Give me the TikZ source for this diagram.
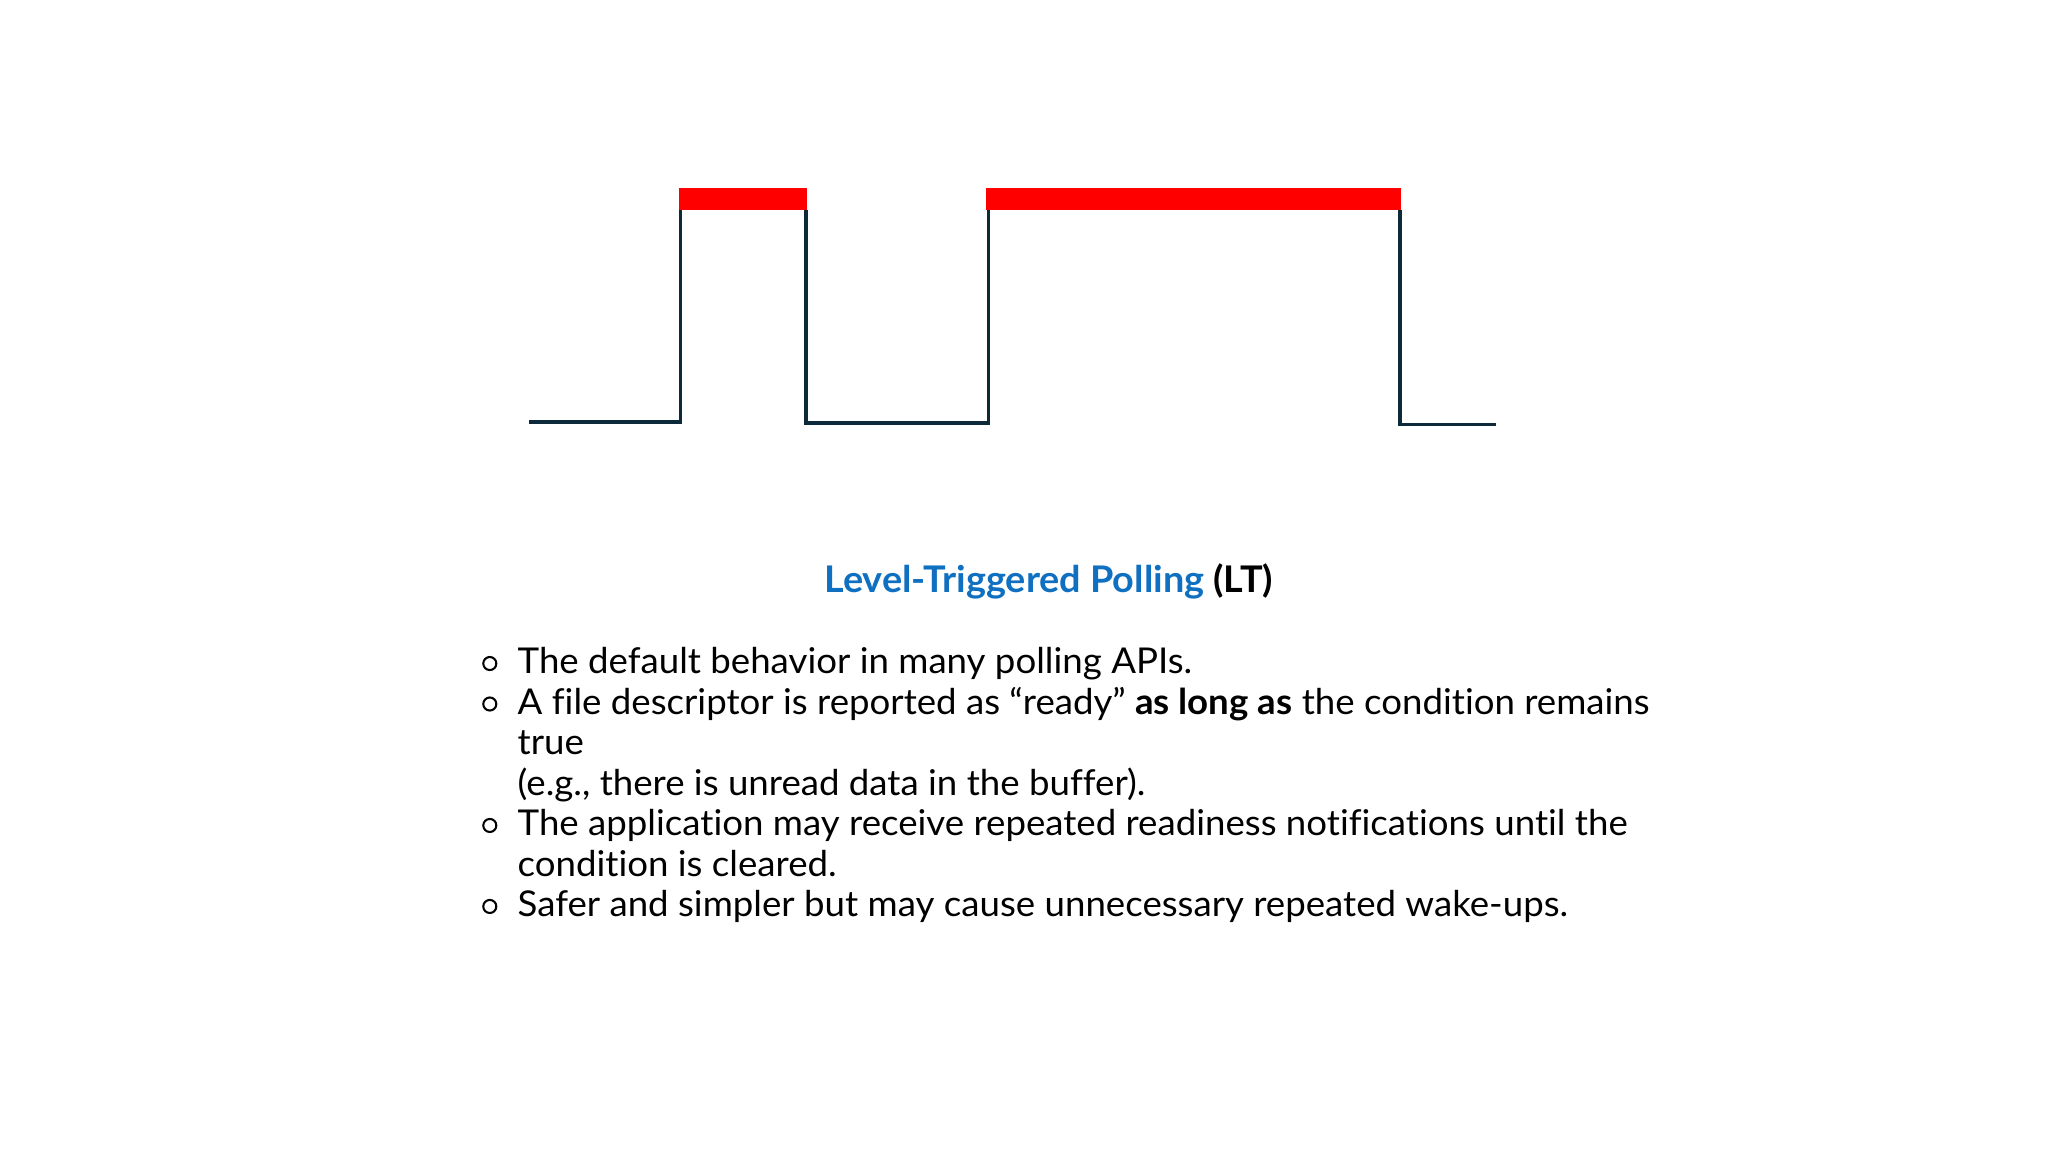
\documentclass[tikz,border=0pt]{standalone}
\usepackage{fontspec}
\setmainfont{Lato}[Ligatures=NoCommon,FakeStretch=1.03]
\definecolor{wave}{HTML}{0D2A3A}
\definecolor{ttl}{HTML}{0F6FC0}
\definecolor{barred}{HTML}{FF0000}
\begin{document}
\begin{tikzpicture}[x=0.02cm,y=-0.02cm,
  ln/.style={anchor=base west,inner sep=0pt,font=\fontsize{15.5pt}{18pt}\selectfont},
  bul/.style={draw,circle,line width=0.9pt,minimum size=0.2cm,inner sep=0pt},
  sig/.style={draw=wave,line width=1.5pt},
  bar/.style={fill=barred,draw=none}]
\useasboundingbox (0,0) rectangle (1568,882);
% red bars
\fill[bar] (520,144) rectangle (618,161);
\fill[bar] (755,144) rectangle (1073,161);
% waveform
\coordinate (a0) at (405,323);
\coordinate (a1) at (521,323);
\coordinate (a2) at (521,161);
\coordinate (a3) at (617,161);
\coordinate (a4) at (617,324);
\coordinate (a5) at (757,324);
\coordinate (a6) at (757,161);
\coordinate (a7) at (1072,161);
\coordinate (a8) at (1072,325);
\coordinate (a9) at (1145,325);
\draw[sig] (a0) -- (a1) -- (a2);
\draw[sig] (a3) -- (a4) -- (a5) -- (a6);
\draw[sig] (a7) -- (a8) -- (a9);
% title
\node[anchor=base,inner sep=0pt,font=\fontsize{16pt}{20pt}\selectfont\bfseries] (title) at (803,454) {\textcolor{ttl}{Level-Triggered Polling} (LT)};
% bullets
\node[bul] (b1) at (375,508) {};
\node[bul] (b2) at (375,539) {};
\node[bul] (b3) at (375,632) {};
\node[bul] (b4) at (375,694) {};
\node[ln] (l1) at (396,516) {The default behavior in many polling APIs.};
\node[ln] (l2) at (396,547) {A file descriptor is reported as “ready” \textbf{as long as} the condition remains};
\node[ln] (l3) at (396,578) {true};
\node[ln] (l4) at (396,609) {(e.g., there is unread data in the buffer).};
\node[ln] (l5) at (396,640) {The application may receive repeated readiness notifications until the};
\node[ln] (l6) at (396,671) {condition is cleared.};
\node[ln] (l7) at (396,702) {Safer and simpler but may cause unnecessary repeated wake-ups.};
\end{tikzpicture}
\end{document}
